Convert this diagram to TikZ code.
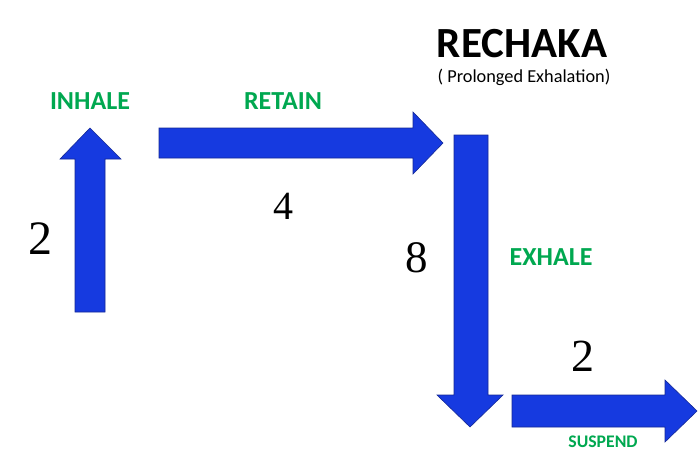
\documentclass[tikz,border=0pt]{standalone}
\usepackage{fontspec}
\setmainfont{Carlito}
\newfontfamily\digitfont{Liberation Serif}
\definecolor{arrowblue}{RGB}{22,58,224}
\definecolor{arrowedge}{RGB}{20,40,150}
\definecolor{labelgreen}{RGB}{0,168,80}
\tikzset{
  blockarrow/.style={fill=arrowblue,draw=arrowedge,line width=0.6pt,line join=miter},
  phase/.style={inner sep=0pt,text=labelgreen,font=\bfseries\fontsize{26}{26}\selectfont},
  count/.style={inner sep=0pt,font=\digitfont\fontsize{48}{48}\selectfont},
}
\begin{document}
\begin{tikzpicture}[x=1pt,y=-1pt]
            \useasboundingbox[fill=white] (0,0) rectangle (700,463);
            % block arrows
            \draw[blockarrow] (75,312) -- (105,312) -- (105,159) -- (121,159) -- (90,128) -- (60,159) -- (75,159) -- cycle;
            \draw[blockarrow] (159,128) -- (413,128) -- (413,112) -- (443,143) -- (413,174) -- (413,158) -- (159,158) -- cycle;
            \draw[blockarrow] (454,135) -- (488,135) -- (488,395) -- (503,395) -- (470,427) -- (437,395) -- (454,395) -- cycle;
            \draw[blockarrow] (512,395) -- (665,395) -- (665,380) -- (697,411) -- (665,442) -- (665,427) -- (512,427) -- cycle;
            % title
            \node[inner sep=0pt,font=\bfseries\fontsize{43}{43}\selectfont] (title) at (522,44) {RECHAKA};
            \node[inner sep=0pt,font=\fontsize{18.3}{18.3}\selectfont] (subtitle) at (524,77) {( Prolonged Exhalation)};
            % phases
            \node[phase] (inhale) at (90,101) {INHALE};
            \node[phase] (retain) at (283,101) {RETAIN};
            \node[phase] (exhale) at (551,257) {EXHALE};
            \node[phase,font=\bfseries\fontsize{17.7}{17.7}\selectfont] (suspend) at (603,442) {SUSPEND};
            % counts
            \node[count] (inhalecount) at (40,239) {2};
            \node[count,font=\digitfont\fontsize{40}{40}\selectfont] (retaincount) at (283,206) {4};
            \node[count,font=\digitfont\fontsize{45}{45}\selectfont] (exhalecount) at (417,258) {8};
            \node[count,font=\digitfont\fontsize{46}{46}\selectfont] (suspendcount) at (583,356) {2};
        \end{tikzpicture}
\end{document}
